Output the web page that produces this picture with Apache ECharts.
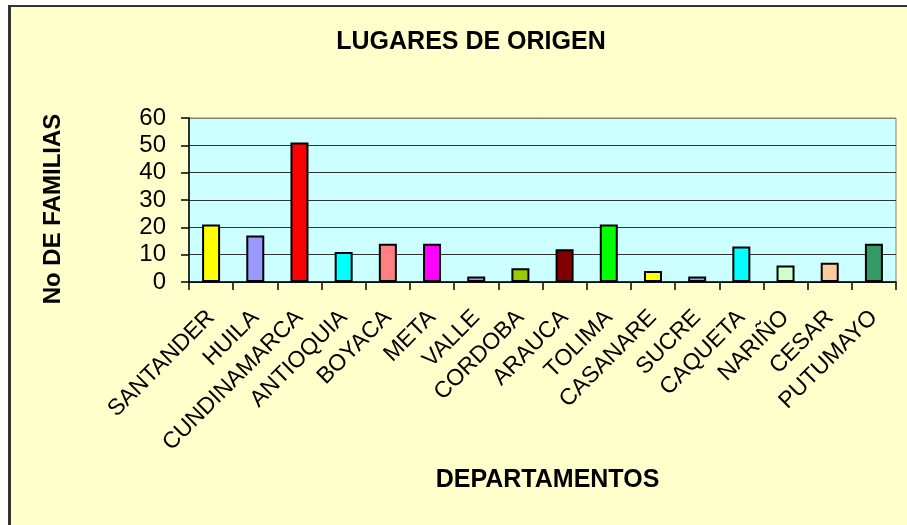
<!DOCTYPE html>
<html>
<head>
<meta charset="utf-8">
<script src="https://cdn.jsdelivr.net/npm/echarts@6/dist/echarts.min.js"></script>
<style>
  html, body { margin: 0; padding: 0; background: #ffffff; }
  #frame {
    position: absolute; left: 8px; top: 5px; width: 899px; height: 520px;
    background: #FFFFCC; border-left: 3px solid #333333; border-top: 2px solid #333333;
    box-sizing: border-box;
  }
  #chart { position: absolute; left: 0; top: 0; width: 907px; height: 525px; }
</style>
</head>
<body>
<div id="frame"></div>
<div id="chart"></div>
<script>
// Departments of origin and number of families from each
const departamentos = ['SANTANDER', 'HUILA', 'CUNDINAMARCA', 'ANTIOQUIA', 'BOYACA', 'META', 'VALLE', 'CORDOBA',
  'ARAUCA', 'TOLIMA', 'CASANARE', 'SUCRE', 'CAQUETA', 'NARIÑO', 'CESAR', 'PUTUMAYO'];
const familias = [21, 17, 51, 11, 14, 14, 2, 5, 12, 21, 4, 2, 13, 6, 7, 14];
const coloresBarra = ['#FFFF00', '#9999FF', '#FF0000', '#00FFFF', '#FF8080', '#FF00FF', '#9999FF', '#99CC00',
  '#800000', '#00FF00', '#FFFF00', '#9999FF', '#00FFFF', '#CCFFCC', '#FFCC99', '#339966'];
const ejeY = { min: 0, max: 60, interval: 10 };

const fuente = 'Arial, "Liberation Sans", sans-serif';
const chart = echarts.init(document.getElementById('chart'), null, { renderer: 'canvas' });

chart.setOption({
  backgroundColor: 'transparent',
  animation: false,
  title: {
    text: 'LUGARES DE ORIGEN',
    left: 466,
    textAlign: 'center',
    top: 25,
    textStyle: { fontFamily: fuente, fontWeight: 'bold', fontSize: 25, color: '#000' }
  },
  grid: {
    left: 189, right: 11, top: 118, bottom: 243,
    show: true, backgroundColor: '#CCFFFF', borderColor: '#808080', borderWidth: 1
  },
  xAxis: {
    type: 'category',
    data: departamentos,
    name: 'DEPARTAMENTOS',
    nameLocation: 'middle',
    nameGap: 186,
    nameTextStyle: { fontFamily: fuente, fontWeight: 'bold', fontSize: 25, color: '#000', padding: [0, 0, 0, 10] },
    axisLine: { lineStyle: { color: '#000', width: 1.5 } },
    axisTick: { show: true, length: 8, alignWithLabel: false, lineStyle: { color: '#000', width: 1.5 } },
    axisLabel: {
      interval: 0, rotate: 45, margin: 32,
      fontFamily: fuente, fontSize: 23, color: '#000'
    },
    splitLine: { show: false }
  },
  yAxis: {
    type: 'value',
    min: ejeY.min, max: ejeY.max, interval: ejeY.interval,
    name: 'No DE FAMILIAS',
    nameLocation: 'middle',
    nameRotate: 90,
    nameGap: 124,
    nameTextStyle: { fontFamily: fuente, fontWeight: 'bold', fontSize: 24, color: '#000', padding: [0, 18, 0, 0] },
    axisLine: { show: true, lineStyle: { color: '#000', width: 1.5 } },
    axisTick: { show: true, length: 8, lineStyle: { color: '#000', width: 1.5 } },
    axisLabel: { margin: 23, fontFamily: fuente, fontSize: 24, color: '#000' },
    splitLine: {
      show: true,
      lineStyle: { color: ['#333333', '#333333', '#333333', '#333333', '#333333', '#333333', '#808080'], width: 1.2 }
    }
  },
  series: [{
    type: 'bar',
    data: familias.map((v, i) => ({ value: v, itemStyle: { color: coloresBarra[i] } })),
    barWidth: 18,
    itemStyle: { borderColor: '#000', borderWidth: 2 }
  }]
});
</script>
</body>
</html>
